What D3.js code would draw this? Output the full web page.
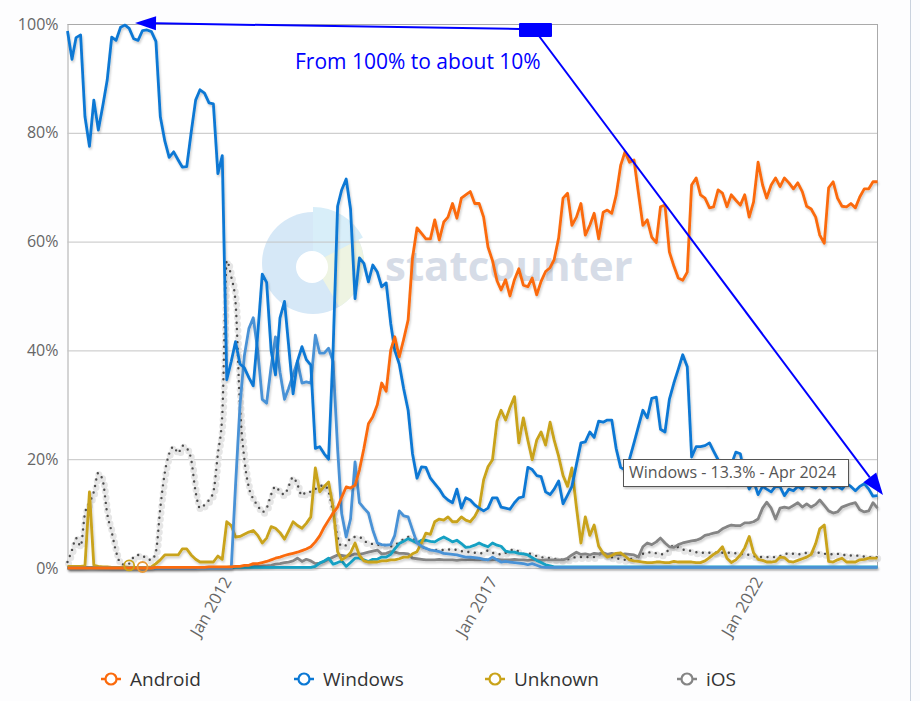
<!DOCTYPE html>
<html><head><meta charset="utf-8">
<script src="https://cdn.jsdelivr.net/npm/d3@7"></script>
<style>html,body{margin:0;padding:0;background:#fbfcfe;} svg{display:block;font-family:"Open Sans",sans-serif;}</style>
</head><body><svg id="c" width="920" height="701"></svg>
<script>
const startMonth = "2009-01";
const endMonth = "2024-04";
const tickMonths = ["2012-01","2017-01","2022-01"];
const tickLabels = ["Jan 2012","Jan 2017","Jan 2022"];
const yTicks = [0,20,40,60,80,100];
const legendNames = ["Android","Windows","Unknown","iOS"];

const android = [0,0,0,0,0,0,0,0,0,0, 0,0,0,0,0,0,0,0,0,0, 0.1,0.1,0.1,0.1,0.1,0.1,0.1,0.1,0.1,0.1, 0.1,0.1,0.2,0.2,0.2,0.2,
0.2,0.2,0.3,0.3,0.5,0.5,0.8,0.8,1,1.2,
1.5,1.8,2,2.3,2.5,2.7,2.9,3.2,3.5,3.9,
4.8,5.9,7.5,8.8,10.1,11.2,13,14.9,14.7,15.2,
18,22,26.5,27.8,30,34,32.5,40,42.5,38.8,
42,45.6,57,62.5,61.5,60.5,60.5,64,60.3,63.6,
64.5,67,64.3,68,68.6,69.2,67,67,64.5,59,
56.5,52.8,51.1,53,50,53,55,52,51.7,53.3,
50.2,52.7,54.5,55.2,56.7,60.7,68,68.9,63,64.5,
67,61.2,63,65.2,60.5,65.4,65.8,65.2,68.5,74,
76.5,74.6,75,69,63,64,60.8,59.8,66.4,66.7,
58.1,55.5,53.3,52.9,54.4,70.4,71.7,68.6,68,66.2,
66.4,69.5,68.9,66.4,68.6,67.6,66.7,68.6,64.5,67.3,
74.6,70.4,68,70.4,71.7,70.1,71.7,70.8,69.7,70.8,
69.2,66.5,66,64.5,61.2,59.7,69.9,71,68,66.5,
66.4,67,66.2,68.2,69.7,69.7,71,71];

const windows = [98.7,93.5,97.5,98,83,77.5,86,80.5,85,89.7,
97.6,97,99.4,99.8,99.2,97.3,97,98.8,98.9,98.6,
96.8,83,78.5,75.5,76.5,75,73.7,73.8,80,86,
87.9,87.3,85.5,85.3,72.5,75.8,34.6,38,41.6,37.5,
36.8,35,33.5,43,54,52.5,40,35.5,46,49,
41,32,38,40.7,38.3,37.3,22,22.3,21,20,
40,66.5,69.5,71.5,66,49.5,57,56,52.6,55.7,
54.4,51.7,52.4,45,40,37.5,33,29,21,16.5,
18.6,18.5,16.5,15.5,14.5,13.2,12.5,12,14.5,11,
12.9,12.5,11.6,11,10.5,11,12.9,12.9,11.2,11,
10.8,12,12.9,13.1,18.5,18.1,17,16.8,14,13.5,
14.5,16,11.8,13.4,15,19,23,23.2,25,24,
27,26.8,27.2,27.2,22,18.5,18,20,23,26,
29,27.6,31.2,31.4,25.5,25,31,34,36.5,39.2,
37,20.4,22.3,22.3,22.5,23,21.5,19.9,17,15.5,
19,21.3,21,17,14.5,16,13.5,15,14.5,14,
15,14.9,13.3,14.5,14.2,15,14.5,16,15,14.7,
15.5,14.5,15.5,14.7,15,14.5,15.5,15,14.2,15,
15.5,14.5,13.2,13.3];

const unknown = [0.3,0.3,0.3,0.3,0.4,14,0.5,0.3,0.2,0.2,
0.1,0.1,0.1,0.2,0.1,0.1,0.1,0.1,0.1,0.2,
0.8,1.5,2.4,2.4,2.4,2.4,3.5,3.5,2.4,1.6,
1.1,1.1,1.1,1.1,2.2,1.6,8.5,7.8,5.7,5.8,
6.2,6.6,6.9,6,4.6,5.5,7.6,7.3,6.5,5.3,
6.8,8.5,7.8,7.3,8.2,9.4,18.4,14,15,15.8,
11.2,3,1.5,2,2.8,4.6,2.3,1.3,1.1,1.1,
1.1,1.3,1.3,1.5,1.5,1.7,2,2,2.6,3,
4.6,6.4,6.2,8.5,9,8.8,9.4,8.5,8.5,9.4,
8.8,8.5,9.5,11,16.2,18.6,19.9,27,29,27.2,
29.5,31.5,23,27.6,23.5,19.9,23.5,25,22.6,26.8,
23.5,20.5,17,15,18.4,11.2,4.6,9.4,6,7.9,
4,2.7,2,2.3,2.7,2.8,2.2,1.5,1.3,1.2,
1.1,1,1,1.1,1.1,1,1,1.2,1.1,1.1,
1.1,1.1,1,1,1.3,1.9,2.5,3,3.9,1.8,
1,1.5,2.4,3.7,5.8,2.8,1.6,1.4,1.1,1.1,
1.2,2,1.9,1.2,1.1,1.4,1.7,2,2.5,4.5,
7.2,7.9,1.2,1.1,1.5,1.8,1.1,1.1,1.1,1.5,
1.6,1.8,1.8,1.8];

const ios = [0,0,0,0,0,0,0,0,0,0, 0,0,0,0,0,0,0,0,0,0, 0,0,0,0,0,0,0,0,0,0,
0.1,0.1,0.1,0.1,0.1,0.1,0.1,0.2,0.2,0.2,0.2,0.3,0.3,0.3,0.4,0.4,
0.5,0.7,0.8,1,1.1,1.3,1.8,1.2,1.6,1.3,
0.8,0.9,1.2,1.6,2,2.4,2.3,2.2,2.3,2.6,
2.5,2.7,2.9,3.1,3.3,2.6,2.7,3,2.9,2.7,
2.7,2.6,1.8,1.7,1.6,1.5,1.5,1.5,1.6,1.5,
1.5,1.5,1.4,1.5,1.5,1.6,1.5,1.5,1.6,1.5,
1.5,1.6,1.5,1.5,1.5,1.6,1.5,1.5,1.4,1.5,
1.5,1.4,1.5,1.5,1.5,1.5,1.5,1.8,2.4,2.9,
2.5,2.6,2.4,2.7,2.6,2.8,2.5,2.7,2.5,2.4,
2.6,2.5,2.4,2,3.9,4.6,4.3,4.8,5.5,4.6,
3.9,3.8,4.3,4.6,4.8,5,5.1,5.4,6,6.2,
6.4,6.6,7.2,7.6,7.9,7.8,7.8,8.3,8.3,8.5,
9,11,12.1,11,9,11,11.2,11,11.5,12,
11.2,11.8,11.2,11.7,12.5,11.5,10.5,10.1,10.3,11.2,
11.5,11.8,12,10.7,10.3,10.5,12,11];

const series40 = [0,0,0,0,0,0,0,0,0,0, 0,0,0,0,0,0,0,0,0,0, 0,0,0,0,0,0,0,0,0,0, 0,0,0,0,0,0,0,0,
15,30,39,44,46,40,31,30.3,37,42.5,
36,31,33,35.5,38,34,34.2,34,42.8,39.5,
39.5,40.4,38,22,10,5.7,9,19.5,12,11,
10.1,7,4.6,4.3,4.2,4.3,6,10.5,9.6,9.4,
7,4.6,4,3.6,3.3,3.2,3,2.7,2.6,2.5,
2.4,2.2,2,2,1.9,1.8,1.6,1.5,2,1.5,
1.1,1.2,1.1,1,0.9,0.8,0.6,0.8,0.5,0.2,
0.1,0.1,0.1,0.1,0.1,0.1,0.1,0.1,0.1,0.1,
0.1,0.1,0.1,0.1,0.1,0.1,0.1,0.1,0.1,0.1,
0.1,0.1,0.1,0.1,0.1,0.1,0.1,0.1,0.1,0.1,
0.1,0.1,0.1,0.1,0.1,0.1,0.1,0.1,0.1,0.1,
0.1,0.1,0.1,0.1,0.1,0.1,0.1,0.1,0.1,0.1,
0.1,0.1,0.1,0.1,0.1,0.1,0.1,0.1,0.1,0.1,
0.1,0.1,0.1,0.1,0.1,0.1,0.1,0.1,0.1,0.1,
0.1,0.1,0.1,0.1,0.1,0.1];

const osx = [0.1,0.1,0.1,0.1,0.1,0.1,0.1,0.1,0.1,0.1, 0.1,0.1,0.1,0.1,0.1,0.1,0.1,0.1,0.1,0.1,
0.1,0.1,0.1,0.1,0.1,0.1,0.1,0.1,0.1,0.1, 0.1,0.1,0.1,0.1,0.1,0.1,0.1,0.1,0.1,0.1,
0.1,0.1,0.1,0.1,0.1,0.1,0.1,0.1,0.1,0.1, 0.1,0.1,0.1,0.1,0.1,0.1,
0.3,0.9,1.3,1.8,0.7,1,1.3,0.3,1,1.8,
1.8,1.5,1.2,1.6,1.6,2,2,2.5,3.5,4.5,
4.9,5.4,5,4.6,5.1,5.1,4.9,4.8,5.3,5.7,
5.3,4.8,5.1,4.5,3.8,3.9,4.2,4.6,4.2,3.9,
4.6,4.2,4,3.1,2.9,2.9,2.7,2.6,2.4,1.9,
1.4,1,0.6,0.4,0.2,0.2,0.2,0.2,0.2,0.2,
0.2,0.2,0.2,0.2,0.2,0.2,0.2,0.2,0.2,0.2, 0.2,0.2,0.2,0.2,0.2,0.2,0.2,0.2,0.2,0.2,
0.2,0.2,0.2,0.2,0.2,0.2,0.2,0.2,0.2,0.2, 0.2,0.2,0.2,0.2,0.2,0.2,0.2,0.2,0.2,0.2,
0.2,0.2,0.2,0.2,0.2,0.2,0.2,0.2,0.2,0.2, 0.2,0.2,0.2,0.2,0.2,0.2,0.2,0.2,0.2,0.2,
0.2,0.2,0.2,0.2,0.2,0.2,0.2,0.2];

const other = [1.1,3.3,5.5,4,10,12,14,17.5,16,10,
6.6,3,0.9,0.6,0.8,2,2.4,2.3,1.6,1.5,
3,11,17.5,21,22.3,21.1,22.5,22,20,14,
11,11.6,12.5,14,21,28,56.5,53.5,49,29.6,
20,14.8,12.7,11.5,10.3,11,13.5,15,14,13.5,
15,16.7,15.3,13.3,14,14,14.5,15,15.2,14,
10.1,5.7,4,4.2,5.5,5.7,5.7,5,4.6,4.4,
4.3,4.2,4.2,4,4.2,4.8,5.3,5.7,5.4,5.1,
4.2,3.4,3.3,3.3,3.3,3.3,3.4,3.4,3.3,3.1,
3,2.9,2.8,2.7,2.8,3.2,2.8,2.6,2.5,2.8,
3.2,3.4,3,2.6,2.7,2.5,2.2,2,1.9,1.8,
1.7,1.6,1.5,1.6,1.8,2,2,2,2,2,
2.5,2.6,2.2,2,1.8,1.6,1.5,1.6,1.8,2.2,
2.6,2.8,2.9,2.7,2.5,2.7,3.5,4.2,3.8,3.4,
3.3,3.1,2.9,2.8,2.8,2.8,2.8,2.8,2.8,2.8,
2.8,2.7,2.6,2.5,2.4,2.2,2.1,2,2,2,
2,2.2,2.5,2.7,2.6,2.5,2.6,2.8,2.9,2.8,
2.8,2.6,2.6,2.5,2.6,2.4,2.4,2.3,2.3,2.2,
2.1,2,2,2];

const parse = d3.timeParse("%Y-%m");
const months = d3.timeMonth.range(parse(startMonth), d3.timeMonth.offset(parse(endMonth), 1));

const svg = d3.select("#c");
const L = 67.5, R = 877.5, T = 24, B = 568;
const x = d3.scaleTime().domain([months[0], months[months.length-1]]).range([L, R]);
const y = d3.scaleLinear().domain([0, 100]).range([B, T]);

const defs = svg.append("defs");
const f = defs.append("filter").attr("id","sh").attr("x","-2%").attr("y","-5%").attr("width","104%").attr("height","115%");
f.append("feDropShadow").attr("dx",1).attr("dy",2).attr("stdDeviation",1.3).attr("flood-color","#000").attr("flood-opacity",0.2);

// backgrounds
svg.append("rect").attr("width",920).attr("height",701).attr("fill","#fbfcfe");
svg.append("rect").attr("x",0).attr("y",0).attr("width",910).attr("height",701).attr("fill","#fdfdfe");
svg.append("line").attr("x1",910.5).attr("x2",910.5).attr("y1",0).attr("y2",701).attr("stroke","#c9d2de");
svg.append("rect").attr("x",L).attr("y",T).attr("width",R-L).attr("height",B-T).attr("fill","#ffffff");

// watermark
const wm = svg.append("g");
const cx = 313, cy = 263;
const arc = d3.arc();
wm.append("circle").attr("cx",cx).attr("cy",cy).attr("r",51).attr("fill","#d6e8f7");
wm.append("path").attr("transform",`translate(${cx},${cy})`).attr("d",arc({innerRadius:0,outerRadius:56,startAngle:0,endAngle:1.1})).attr("fill","#d8eef9");
wm.append("path").attr("transform",`translate(${cx},${cy})`).attr("d",arc({innerRadius:0,outerRadius:51,startAngle:1.1,endAngle:2.6})).attr("fill","#eef4e2");
wm.append("circle").attr("cx",cx-1).attr("cy",cy+4).attr("r",16).attr("fill","#ffffff");
wm.append("text").attr("x",385).attr("y",281).attr("font-size",42).attr("font-weight",700).attr("fill","#d6dce7").attr("font-family","'Open Sans',sans-serif").text("statcounter");

// axes
const yAxis = d3.axisLeft(y).tickValues(yTicks).tickFormat(d => d + "%").tickSize(-(R-L)).tickPadding(9);
const gy = svg.append("g").attr("transform",`translate(${L},0)`).call(yAxis);
gy.select(".domain").attr("stroke","#aaaaaa");
gy.selectAll(".tick line").attr("stroke","#c4c4c4").attr("stroke-width",1);
gy.selectAll(".tick text").attr("font-size",16).attr("fill","#666").attr("font-family","'Open Sans',sans-serif");
svg.append("line").attr("x1",R).attr("x2",R).attr("y1",T).attr("y2",B).attr("stroke","#aaaaaa");
svg.append("line").attr("x1",L).attr("x2",R).attr("y1",T+0.5).attr("y2",T+0.5).attr("stroke","#aaaaaa");

const xAxis = d3.axisBottom(x).tickValues(tickMonths.map(parse)).tickFormat((d,i) => tickLabels[i]).tickSize(0);
const gx = svg.append("g").attr("transform",`translate(0,${B})`).call(xAxis);
gx.select(".domain").remove();
gx.selectAll(".tick text").attr("font-size",16.5).attr("fill","#666").attr("font-family","'Open Sans',sans-serif")
  .attr("text-anchor","end").attr("dy",0).attr("y",0).attr("transform","translate(5,13) rotate(-60)");

// series
const line = d3.line().x((d,i) => x(months[i])).y(d => y(d));
const smooth = d3.line().x((d,i) => x(months[i])).y(d => y(d)).curve(d3.curveMonotoneX);
const plot = svg.append("g");
plot.append("path").attr("d", smooth(other)).attr("fill","none").attr("stroke","#e6e6e6").attr("stroke-width",7).attr("stroke-linecap","round").attr("stroke-dasharray","0 6.5").attr("transform","translate(1,1.5)");
plot.append("path").attr("d", smooth(other)).attr("fill","none").attr("stroke","#4d4d4d").attr("stroke-width",2.4).attr("stroke-linecap","round").attr("stroke-dasharray","0 6.5");

const solid = [
  {v: ios, c: "#858585"},
  {v: osx, c: "#12a0c3"},
  {v: unknown, c: "#c9a31a"},
  {v: series40, c: "#4a92d6"},
  {v: windows, c: "#0b78d4"},
  {v: android, c: "#fb6a0c"}
];
solid.forEach(s => {
  plot.append("path").attr("d", line(s.v)).attr("fill","none").attr("stroke", s.c)
    .attr("stroke-width",2.8).attr("stroke-linejoin","round").attr("filter","url(#sh)");
});

// hover markers near zero
plot.append("circle").attr("cx",x(months[14])).attr("cy",y(unknown[14])-2).attr("r",5).attr("fill","none").attr("stroke","#c9a31a").attr("stroke-width",1.8);
plot.append("circle").attr("cx",x(months[17])).attr("cy",y(android[17])-1).attr("r",5).attr("fill","none").attr("stroke","#e89a3a").attr("stroke-width",1.8);

// legend
const legColors = ["#fb6a0c","#0b78d4","#c9a31a","#858585"];
const legX = [101, 294, 485, 677];
const lg = svg.append("g").selectAll("g").data(legendNames).join("g").attr("transform",(d,i)=>`translate(${legX[i]},679)`);
lg.append("line").attr("x1",0).attr("x2",20).attr("y1",0).attr("y2",0).attr("stroke",(d,i)=>legColors[i]).attr("stroke-width",2.5);
lg.append("circle").attr("cx",10).attr("cy",0).attr("r",5.5).attr("fill","#fff").attr("stroke",(d,i)=>legColors[i]).attr("stroke-width",2.2);
lg.append("text").attr("x",29).attr("y",0).attr("dy","0.35em").attr("font-size",19).attr("fill","#333").attr("font-family","'Open Sans',sans-serif").text(d=>d);

// annotation
const ann = svg.append("g");
function arrow(ax, ay, bx, by, len, hw) {
  const dx = bx-ax, dy = by-ay, d = Math.hypot(dx,dy), ux = dx/d, uy = dy/d;
  const baseX = bx-ux*len, baseY = by-uy*len;
  ann.append("line").attr("x1",ax).attr("y1",ay).attr("x2",baseX).attr("y2",baseY).attr("stroke","#0000ff").attr("stroke-width",2);
  ann.append("polygon").attr("points",[[bx,by],[baseX-uy*hw,baseY+ux*hw],[baseX+uy*hw,baseY-ux*hw]].map(p=>p.join(",")).join(" ")).attr("fill","#0000ff");
}
arrow(519, 29, 135, 23, 21, 7);
arrow(539, 36, 883, 495, 22, 8);
ann.append("rect").attr("x",519).attr("y",23).attr("width",33).attr("height",14).attr("rx",1).attr("fill","#0000ff");
ann.append("text").attr("x",295).attr("y",69).attr("font-size",21).attr("fill","#0000ff").attr("font-family","'Open Sans',sans-serif").text("From 100% to about 10%");

// tooltip
const tt = svg.append("g");
tt.append("rect").attr("x",623.5).attr("y",459.5).attr("width",225).attr("height",27).attr("fill","#fff").attr("stroke","#555").attr("filter","url(#sh)");
tt.append("text").attr("x",629).attr("y",478).attr("font-size",16).attr("fill","#555").attr("font-family","'Open Sans',sans-serif").text("Windows - 13.3% - Apr 2024");
</script></body></html>
